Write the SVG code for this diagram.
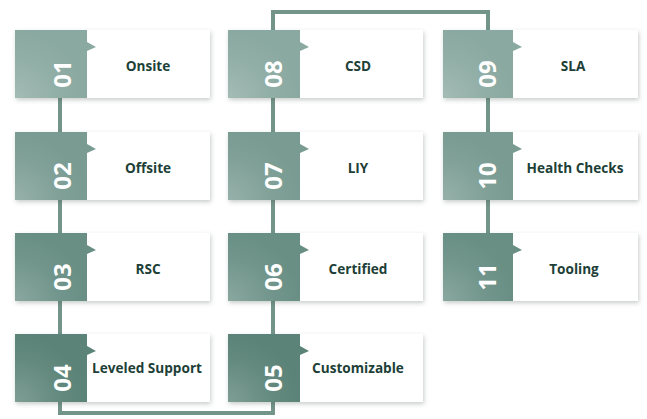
<svg xmlns="http://www.w3.org/2000/svg" width="647" height="419" viewBox="0 0 647 419">
<defs>
  <filter id="sh" x="-10%" y="-10%" width="125%" height="135%">
    <feDropShadow dx="1" dy="2" stdDeviation="2" flood-color="#3a4a46" flood-opacity="0.28"/>
  </filter>
  <radialGradient id="gl" cx="0" cy="1" r="1">
    <stop offset="0" stop-color="#ffffff" stop-opacity="0.22"/>
    <stop offset="0.6" stop-color="#ffffff" stop-opacity="0.06"/>
    <stop offset="1" stop-color="#ffffff" stop-opacity="0"/>
  </radialGradient>
  <g id="card">
    <rect x="0" y="0" width="195" height="68" fill="#ffffff" filter="url(#sh)"/>
  </g>
</defs>
<style>
  .lbl{font-family:"Open Sans","Liberation Sans",sans-serif;font-weight:700;font-size:13.6px;fill:#1d3f37;text-anchor:middle;dominant-baseline:central}
  .num{font-family:"Open Sans","Liberation Sans",sans-serif;font-weight:700;font-size:24px;fill:#ffffff;text-anchor:middle}
  .c1{fill:#8aa9a1}
  .c2{fill:#799b92}
  .c3{fill:#698f85}
  .c4{fill:#5b8377}
  .conn{fill:none;stroke:#739489;stroke-width:4}
</style>
<rect width="647" height="419" fill="#ffffff"/>
<g id="connectors">
  <path class="conn" d="M60,98 L60,413 L273,413 L273,12 L488,12 L488,233"/>
</g>

<g id="n01" transform="translate(15,30)">
  <use href="#card"/><rect class="c1" width="72" height="68"/><rect width="72" height="68" fill="url(#gl)"/>
  <polygon class="c1" points="72,12 81,17 72,21"/>
  <text class="num" transform="translate(47,44) rotate(-90)" dy="0.36em">01</text>
  <text class="lbl" x="133" y="35">Onsite</text>
</g>
<g id="n02" transform="translate(15,132)">
  <use href="#card"/><rect class="c2" width="72" height="68"/><rect width="72" height="68" fill="url(#gl)"/>
  <polygon class="c2" points="72,12 81,17 72,21"/>
  <text class="num" transform="translate(47,44) rotate(-90)" dy="0.36em">02</text>
  <text class="lbl" x="133" y="35">Offsite</text>
</g>
<g id="n03" transform="translate(15,233)">
  <use href="#card"/><rect class="c3" width="72" height="68"/><rect width="72" height="68" fill="url(#gl)"/>
  <polygon class="c3" points="72,12 81,17 72,21"/>
  <text class="num" transform="translate(47,44) rotate(-90)" dy="0.36em">03</text>
  <text class="lbl" x="133" y="35">RSC</text>
</g>
<g id="n04" transform="translate(15,334)">
  <use href="#card"/><rect class="c4" width="72" height="68"/><rect width="72" height="68" fill="url(#gl)"/>
  <polygon class="c4" points="72,12 81,17 72,21"/>
  <text class="num" transform="translate(47,44) rotate(-90)" dy="0.36em">04</text>
  <text class="lbl" x="132" y="33">Leveled Support</text>
</g>

<g id="n05" transform="translate(228,334)">
  <use href="#card"/><rect class="c4" width="72" height="68"/><rect width="72" height="68" fill="url(#gl)"/>
  <polygon class="c4" points="72,12 81,17 72,21"/>
  <text class="num" transform="translate(45,44) rotate(-90)" dy="0.36em">05</text>
  <text class="lbl" x="130" y="33">Customizable</text>
</g>
<g id="n06" transform="translate(228,233)">
  <use href="#card"/><rect class="c3" width="72" height="68"/><rect width="72" height="68" fill="url(#gl)"/>
  <polygon class="c3" points="72,12 81,17 72,21"/>
  <text class="num" transform="translate(45,44) rotate(-90)" dy="0.36em">06</text>
  <text class="lbl" x="130" y="35">Certified</text>
</g>
<g id="n07" transform="translate(228,132)">
  <use href="#card"/><rect class="c2" width="72" height="68"/><rect width="72" height="68" fill="url(#gl)"/>
  <polygon class="c2" points="72,12 81,17 72,21"/>
  <text class="num" transform="translate(45,44) rotate(-90)" dy="0.36em">07</text>
  <text class="lbl" x="130" y="35">LIY</text>
</g>
<g id="n08" transform="translate(228,30)">
  <use href="#card"/><rect class="c1" width="72" height="68"/><rect width="72" height="68" fill="url(#gl)"/>
  <polygon class="c1" points="72,12 81,17 72,21"/>
  <text class="num" transform="translate(45,44) rotate(-90)" dy="0.36em">08</text>
  <text class="lbl" x="130" y="35">CSD</text>
</g>

<g id="n09" transform="translate(443,30)">
  <use href="#card"/><rect class="c1" width="70" height="68"/><rect width="70" height="68" fill="url(#gl)"/>
  <polygon class="c1" points="70,12 79,17 70,21"/>
  <text class="num" transform="translate(44,44) rotate(-90)" dy="0.36em">09</text>
  <text class="lbl" x="130" y="35">SLA</text>
</g>
<g id="n10" transform="translate(443,132)">
  <use href="#card"/><rect class="c2" width="70" height="68"/><rect width="70" height="68" fill="url(#gl)"/>
  <polygon class="c2" points="70,12 79,17 70,21"/>
  <text class="num" transform="translate(44,44) rotate(-90)" dy="0.36em">10</text>
  <text class="lbl" x="132" y="35">Health Checks</text>
</g>
<g id="n11" transform="translate(443,233)">
  <use href="#card"/><rect class="c3" width="70" height="68"/><rect width="70" height="68" fill="url(#gl)"/>
  <polygon class="c3" points="70,12 79,17 70,21"/>
  <text class="num" transform="translate(44,44) rotate(-90)" dy="0.36em">11</text>
  <text class="lbl" x="131" y="35">Tooling</text>
</g>
</svg>
